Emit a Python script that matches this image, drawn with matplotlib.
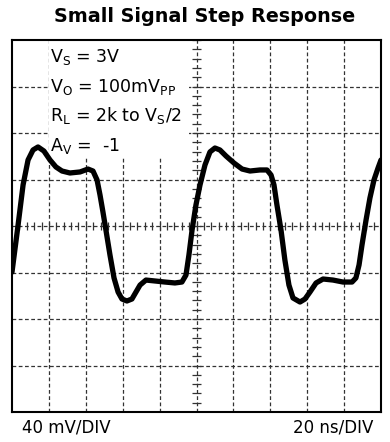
import numpy as np
import matplotlib
matplotlib.use('Agg')
from matplotlib import pyplot as plt

plt.rcParams['font.family'] = ['DejaVu Sans']
plt.rcParams['mathtext.default'] = 'regular'

# scope trace, time in ns and output in mV
t_ns = [0.0, 3.3, 6.0, 8.7, 11.4, 14.1, 17.3, 20.6, 23.8, 27.1, 31.4, 36.9, 41.2, 43.9,
        46.1, 47.7, 49.3, 50.9, 53.1, 55.3, 57.5, 59.6, 62.3, 65.0, 67.2, 69.4, 72.6,
        77.5, 82.9, 88.3, 92.1, 94.3, 95.9, 97.6, 99.7, 101.9, 104.6, 107.3, 110.0,
        112.7, 116.0, 120.3, 124.7, 129.0, 134.4, 138.2, 140.4, 142.0, 143.6, 145.8,
        147.9, 150.1, 152.3, 156.1, 158.8, 161.5, 164.8, 168.6, 174.0, 179.4, 184.3,
        186.4, 188.1, 189.7, 191.9, 194.0, 196.2, 198.4, 200.0]
v_mv = [-39.6, 0.9, 35.3, 56.8, 65.4, 68.0, 64.5, 56.8, 50.8, 47.3, 45.6, 46.5, 49.0, 47.3,
        39.6, 26.7, 12.0, -3.4, -24.9, -44.7, -56.8, -62.8, -64.5, -62.8, -56.8, -50.8, -46.5,
        -47.3, -48.2, -49.0, -48.2, -42.2, -24.9, -3.4, 18.1, 35.3, 52.5, 63.7, 67.1,
        65.4, 60.2, 54.2, 49.0, 47.3, 48.2, 48.2, 43.9, 35.3, 18.1, -3.4,
        -29.2, -50.8, -61.9, -65.4, -62.8, -56.8, -49.0, -45.6, -46.5, -48.2, -48.2,
        -44.7, -33.5, -16.3, 5.2, 24.1, 39.6, 49.9, 56.8]

ns_per_div = 20
mv_per_div = 40
conditions = [r'$V_S$ = 3V', r'$V_O$ = 100m$V_{PP}$', r'$R_L$ = 2k to $V_S$/2', r'$A_V$ =  -1']

fig = plt.figure(figsize=(3.9, 4.42), dpi=100)
ax = fig.add_axes([12 / 390, 1 - 412 / 442, 369 / 390, 372 / 442])
ax.set_xlim(0, 10 * ns_per_div)
ax.set_ylim(-4 * mv_per_div, 4 * mv_per_div)

grid_kw = dict(color='#333333', lw=0.9, linestyle=(0, (3, 2)), zorder=1)
for i in range(1, 10):
    ax.axvline(i * ns_per_div, **grid_kw)
for j in range(-3, 4):
    ax.axhline(j * mv_per_div, **grid_kw)

# minor ticks on the centre cross
tc = 5 * ns_per_div
xt = np.arange(0, 10 * ns_per_div + 0.1, ns_per_div / 5)
yt = np.arange(-4 * mv_per_div, 4 * mv_per_div + 0.1, mv_per_div / 5)
ax.vlines(xt, -3.4, 3.4, color='#333333', lw=0.9, zorder=1)
ax.hlines(yt, tc - 2.3, tc + 2.3, color='#333333', lw=0.9, zorder=1)

ax.plot(t_ns, v_mv, color='black', lw=3.8, solid_capstyle='round', zorder=3)

# white box behind the test conditions
ax.fill_between([ns_per_div + 0.3, 96], 59, 160, color='white', zorder=2, lw=0)
for k, s in enumerate(conditions):
    ax.text(ns_per_div + 0.6, 141 - k * 25.5, s, fontsize=12.5, va='baseline', ha='left', zorder=4)

ax.set_xticks([])
ax.set_yticks([])
for sp in ax.spines.values():
    sp.set_linewidth(1.5)
    sp.set_zorder(5)

fig.text(205 / 390, 1 - 17 / 442, 'Small Signal Step Response', fontsize=13.8,
         fontweight='bold', ha='center', va='center')
fig.text(22 / 390, 1 - 427 / 442, '40 mV/DIV', fontsize=12, ha='left', va='center')
fig.text(373 / 390, 1 - 427 / 442, '20 ns/DIV', fontsize=12, ha='right', va='center')

fig.savefig('out.png', dpi=100)
